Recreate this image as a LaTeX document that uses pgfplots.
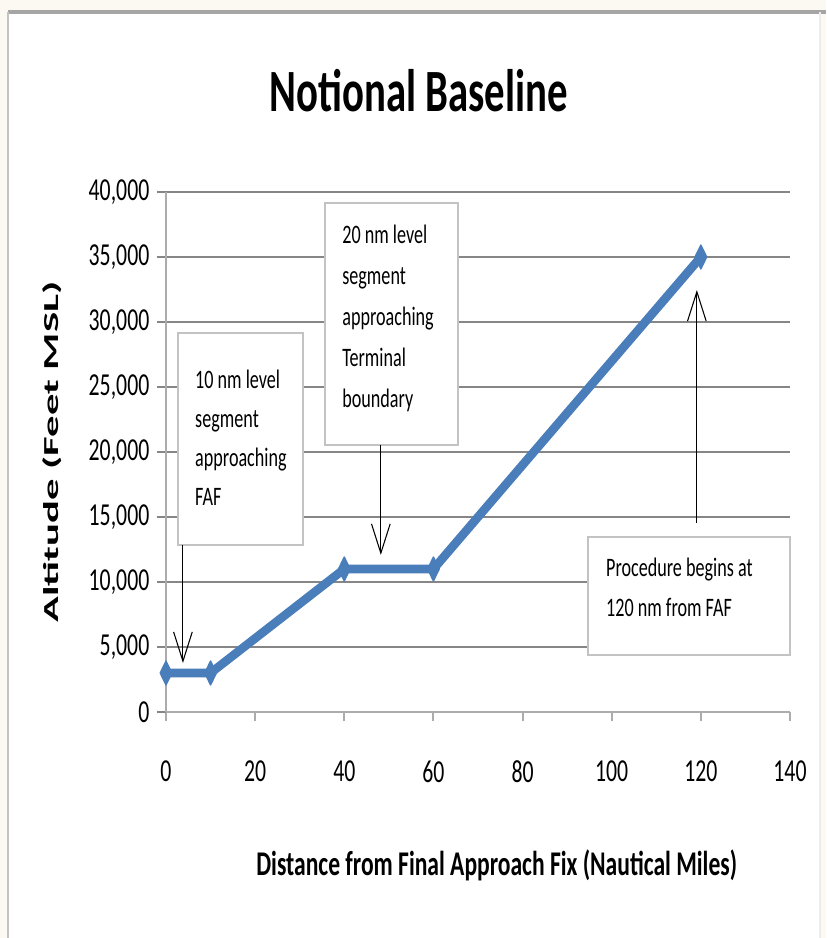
\documentclass[border=0pt]{standalone}
\usepackage{fontspec}
\setmainfont{Carlito}[FakeStretch=0.68]
\newfontfamily\yfont{Carlito}[FakeStretch=2.0]
\usepackage{pgfplots}
\pgfplotsset{compat=1.18}
\usetikzlibrary{arrows.meta}
\definecolor{lineblue}{RGB}{74,126,187}
\definecolor{gridgray}{RGB}{134,134,134}
\definecolor{axisgray}{RGB}{172,172,172}
\definecolor{boxgray}{RGB}{195,195,195}
\definecolor{cream}{RGB}{252,249,243}
\definecolor{framegray}{RGB}{165,165,165}

\begin{document}
\begin{tikzpicture}
\useasboundingbox (0pt,0pt) rectangle (619.5pt,703.5pt);
\fill[cream] (0pt,0pt) rectangle (619.5pt,703.5pt);
\fill[white] (6pt,0pt) rectangle (615pt,694.5pt);
\draw[framegray, line width=3pt] (6pt,694.5pt) -- (619.5pt,694.5pt);
\draw[boxgray, line width=2pt] (6pt,694.5pt) -- (6pt,0pt);
\draw[gray!15, line width=1pt] (615pt,694.5pt) -- (615pt,0pt);

\begin{axis}[
    at={(124.5pt,169.5pt)}, anchor=south west,
    scale only axis, width=468pt, height=390pt,
    xmin=0, xmax=140, ymin=0, ymax=40000,
    xtick={0,20,...,140}, ytick={0,5000,...,40000},
    axis x line=bottom, axis y line=left,
    x axis line style={-, axisgray, line width=2pt},
    y axis line style={-, axisgray, line width=1.5pt},
    ymajorgrids, major grid style={gridgray, line width=2pt},
    tick align=outside, major tick length=7pt,
    xtick style={axisgray, line width=1.5pt},
    ytick style={gridgray, line width=2pt},
    tick label style={font=\fontsize{24}{28}\selectfont},
    xticklabel style={yshift=-26pt},
    yticklabel style={xshift=-2pt},
    scaled y ticks=false,
    /pgf/number format/1000 sep={,},
    /pgf/number format/assume math mode=true,
    title={Notional Baseline},
    title style={at={(rel axis cs:0.405,1)}, anchor=center, yshift=70pt,
                 font=\fontsize{45}{50}\selectfont\bfseries},
    xlabel={Distance from Final Approach Fix (Nautical Miles)},
    xlabel style={at={(rel axis cs:0.53,0)}, anchor=center, yshift=-115pt,
                  font=\fontsize{26}{30}\selectfont\bfseries},
    ylabel={Altitude (Feet MSL)},
    ylabel style={at={(rel axis cs:0,0.5)}, anchor=center, yshift=85pt,
                  font=\yfont\fontsize{16}{20}\selectfont\bfseries},
    clip=false,
]
\addplot[lineblue, line width=6.5pt, line join=round,
    mark=diamond*, mark size=9pt,
    mark options={xscale=0.65, fill=lineblue, draw=lineblue, line width=1pt}]
    coordinates {(0,3000) (10,3000) (40,11000) (60,11000) (120,35000)};

% annotation boxes
\draw[boxgray, line width=1pt, fill=white] (axis cs:2.7,29150) rectangle (axis cs:30.7,12850);
\node[anchor=north west, align=left, inner sep=0pt,
      font=\fontsize{20}{29.25}\selectfont] at (axis cs:6.5,26300)
      {10 nm level\\segment\\approaching\\FAF};
\draw[-{Straight Barb[length=22pt,width=14pt]}, line width=0.8pt]
      (axis cs:3.8,12850) -- (axis cs:3.8,3770);

\draw[boxgray, line width=1pt, fill=white] (axis cs:35.7,39150) rectangle (axis cs:65.5,20540);
\node[anchor=north west, align=left, inner sep=0pt,
      font=\fontsize{20}{30.75}\selectfont] at (axis cs:39.5,37500)
      {20 nm level\\segment\\approaching\\Terminal\\boundary};
\draw[-{Straight Barb[length=22pt,width=14pt]}, line width=0.8pt]
      (axis cs:48.2,20540) -- (axis cs:48.2,12080);

\draw[boxgray, line width=1pt, fill=white] (axis cs:94.7,13460) rectangle (axis cs:140,4380);
\node[anchor=north west, align=left, inner sep=0pt,
      font=\fontsize{20}{30}\selectfont] at (axis cs:98.7,11885)
      {Procedure begins at\\120 nm from FAF};
\draw[-{Straight Barb[length=22pt,width=14pt]}, line width=0.8pt]
      (axis cs:119.1,14540) -- (axis cs:119.1,32460);
\end{axis}
\end{tikzpicture}
\end{document}
